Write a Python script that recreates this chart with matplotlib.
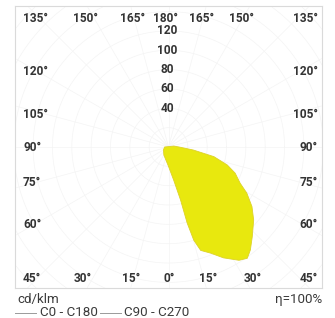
import numpy as np
import matplotlib
matplotlib.use("Agg")
import matplotlib.pyplot as plt

# Photometric data (C0 - C180 plane), gamma in degrees (0 = down, + = right)
gamma = [-90, -60, -30, 0, 9, 12.8, 13.8, 15.2, 17.3, 21.6, 26.4, 31.9, 35.3,
         38.5, 43, 49.4, 54.5, 59.5, 63.2, 68.6, 73, 78, 83, 90, 100]
intensity = [4, 6, 9.6, 20, 35, 56, 81, 100, 112, 118, 128, 138, 141,
             136, 127, 116, 106, 94, 83, 74, 63.5, 48, 26, 11, 5.5]

ring_values = [40, 60, 80, 100, 120]
bottom_labels = ["45°", "30°", "15°", "0°", "15°", "30°", "45°"]
top_labels = ["135°", "150°", "165°", "180°", "165°", "150°", "135°"]
side_labels = ["120°", "105°", "90°", "75°", "60°"]
unit_label = "cd/klm"
eff_label = "η=100%"
legend_labels = ["C0 - C180", "C90 - C270"]

W, H = 335, 318
fig = plt.figure(figsize=(W / 100, H / 100), dpi=100)
fig.patch.set_facecolor("white")

L, R, T, B = 15, 322, 6, 288
ax = fig.add_axes([L / W, (H - B) / H, (R - L) / W, (B - T) / H])
s = 0.967
cx, cy = 168.5, 147
ax.set_xlim((L - cx) / s, (R - cx) / s)
ax.set_ylim(-(B - cy) / s, (cy - T) / s)
ax.set_xticks([])
ax.set_yticks([])
for sp in ax.spines.values():
    sp.set_color("#dadada")
    sp.set_linewidth(0.8)

# faint polar grid
grid_c = "#f4f4f4"
th = np.linspace(0, 2 * np.pi, 361)
for rr in range(20, 240, 20):
    ax.plot(rr * np.cos(th), rr * np.sin(th), color=grid_c, lw=0.5, zorder=0)
for a in range(0, 360, 15):
    ar = np.radians(a)
    ax.plot([0, 300 * np.sin(ar)], [0, -300 * np.cos(ar)], color=grid_c, lw=0.5, zorder=0)

g = np.radians(gamma)
r = np.array(intensity)
xs = r * np.sin(g)
ys = -r * np.cos(g)
ax.fill(xs, ys, facecolor="#e8e80e", edgecolor="#ddd228", lw=0.6, zorder=3)

fkw = dict(family=["DejaVu Sans Condensed", "Roboto", "DejaVu Sans"], fontweight="bold",
           fontsize=8.6, color="#333333")
nkw = dict(family=["Roboto", "DejaVu Sans"], fontweight="normal",
           fontsize=9.6, color="#3a3a3a")

def ptext(x, y, s_, kw, ha="center", va="center"):
    fig.text(x / W, 1 - y / H, s_, ha=ha, va=va, **kw)

# top row
top_x = [23, 85, 133, 165, 202, 241, 318]
for i, (lab, x) in enumerate(zip(top_labels, top_x)):
    ha = "left" if i == 0 else ("right" if i == len(top_x) - 1 else "center")
    ptext(x, 18.5, lab, fkw, ha=ha)
# bottom row
bot_x = [23, 83, 131, 169, 208, 253, 318]
for i, (lab, x) in enumerate(zip(bottom_labels, bot_x)):
    ha = "left" if i == 0 else ("right" if i == len(bot_x) - 1 else "center")
    ptext(x, 278, lab, fkw, ha=ha)
# sides
side_y = [72, 115, 147.5, 183, 224]
for lab, y in zip(side_labels, side_y):
    ptext(23, y, lab, fkw, ha="left")
    ptext(318, y, lab, fkw, ha="right")
# ring values along vertical axis
for v in ring_values:
    ax.text(-1, v, str(v), ha="center", va="center", zorder=5, **fkw)

ptext(17, 300, unit_label, nkw, ha="left")
ptext(322, 300, eff_label, nkw, ha="right")

# legend (at the bottom edge)
ly = 313
fig.add_artist(plt.Line2D([15 / W, 36 / W], [1 - ly / H] * 2, color="#9a9a9a", lw=0.7))
ptext(40, ly, legend_labels[0], nkw, ha="left")
fig.add_artist(plt.Line2D([100 / W, 121 / W], [1 - ly / H] * 2, color="#9a9a9a", lw=0.7))
ptext(124, ly, legend_labels[1], nkw, ha="left")

fig.savefig("out.png", dpi=100)
